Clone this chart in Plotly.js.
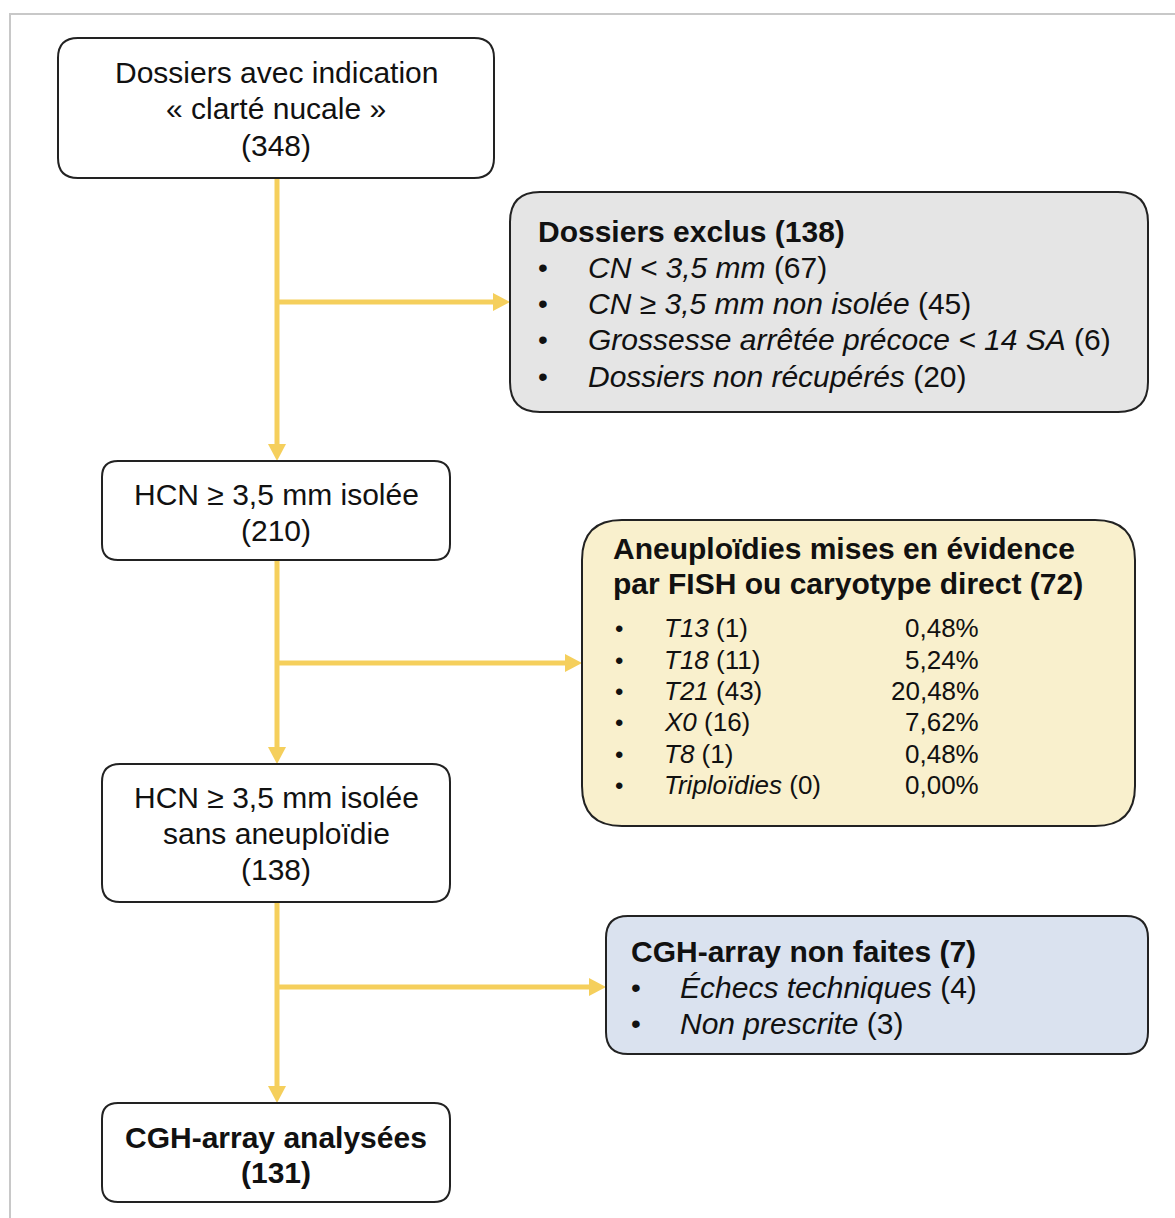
<!DOCTYPE html>
<html>
<head>
<meta charset="utf-8">
<script src="https://cdn.plot.ly/plotly-3.0.1.min.js"></script>
<style>html,body{margin:0;padding:0;background:#fff;}#chart{width:1175px;height:1218px;}</style>
</head>
<body>
<div id="chart"></div>
<script>
// ---- Data ----
const mainLabels = [["Dossiers avec indication", "« clarté nucale »"], ["HCN ≥ 3,5 mm isolée"], ["HCN ≥ 3,5 mm isolée", "sans aneuploïdie"], ["CGH-array analysées"]];
const mainCounts = [348, 210, 138, 131];

const exclusTitle = "Dossiers exclus";
const exclusTotal = 138;
const exclusLabels = ["CN &lt; 3,5 mm", "CN ≥ 3,5 mm non isolée", "Grossesse arrêtée précoce &lt; 14 SA", "Dossiers non récupérés"];
const exclusCounts = [67, 45, 6, 20];

const aneuTitle = ["Aneuploïdies mises en évidence", "par FISH ou caryotype direct"];
const aneuTotal = 72;
const aneuLabels = ["T13", "T18", "T21", "X0", "T8", "Triploïdies"];
const aneuCounts = [1, 11, 43, 16, 1, 0];
const aneuPct = ["0,48%", "5,24%", "20,48%", "7,62%", "0,48%", "0,00%"];

const cghTitle = "CGH-array non faites";
const cghTotal = 7;
const cghLabels = ["Échecs techniques", "Non prescrite"];
const cghCounts = [4, 3];

// ---- Layout helpers ----
const FONT = "Liberation Sans, Arial, Helvetica, sans-serif";
const INK = "#111111";
const LINE = "#f5cf5c";

function rr(x0, y0, x1, y1, r) {
  return `M${x0 + r},${y0} L${x1 - r},${y0} Q${x1},${y0} ${x1},${y0 + r} L${x1},${y1 - r} Q${x1},${y1} ${x1 - r},${y1} L${x0 + r},${y1} Q${x0},${y1} ${x0},${y1 - r} L${x0},${y0 + r} Q${x0},${y0} ${x0 + r},${y0} Z`;
}
const shapes = [];
const annotations = [];

function box(x0, y0, x1, y1, r, fill) {
  shapes.push({type: "path", path: rr(x0, y0, x1, y1, r), xref: "x", yref: "y",
    fillcolor: fill, line: {color: "#222222", width: 2}, layer: "above"});
}
function txt(x, y, text, size, anchor, extra) {
  annotations.push(Object.assign({x: x, y: y, xref: "x", yref: "y", text: text, showarrow: false,
    xanchor: anchor || "center", yanchor: "middle",
    font: {family: FONT, size: size, color: INK}}, extra || {}));
}
function vline(x, y0, y1) {
  shapes.push({type: "line", x0: x, x1: x, y0: y0, y1: y1 - 14, line: {color: LINE, width: 5}, layer: "below"});
  shapes.push({type: "path", path: `M${x - 9},${y1 - 17} L${x + 9},${y1 - 17} L${x},${y1} Z`,
    fillcolor: LINE, line: {color: LINE, width: 0}, layer: "below"});
}
function hline(y, x0, x1) {
  shapes.push({type: "line", x0: x0, x1: x1 - 14, y0: y, y1: y, line: {color: LINE, width: 5}, layer: "below"});
  shapes.push({type: "path", path: `M${x1 - 17},${y - 9} L${x1 - 17},${y + 9} L${x1},${y} Z`,
    fillcolor: LINE, line: {color: LINE, width: 0}, layer: "below"});
}

// outer frame
shapes.push({type: "rect", x0: 10, x1: 1190, y0: 14, y1: 1240, line: {color: "#c8c8c8", width: 2}, layer: "below"});

// connectors
const cx = 277;
vline(cx, 178, 461);
hline(302, cx, 510);
vline(cx, 560, 764);
hline(663, cx, 582);
vline(cx, 902, 1103);
hline(987, cx, 606);

// main boxes
box(58, 38, 494, 178, 20, "#ffffff");
box(102, 461, 450, 560, 16, "#ffffff");
box(102, 764, 450, 902, 18, "#ffffff");
box(102, 1103, 450, 1202, 16, "#ffffff");

const MS = 30;
const BUL = 28;
txt(276, 72, mainLabels[0][0], MS);
txt(276, 108, mainLabels[0][1], MS);
txt(276, 145, "(" + mainCounts[0] + ")", MS);

txt(276, 494, mainLabels[1][0], MS);
txt(276, 530, "(" + mainCounts[1] + ")", MS);

txt(276, 797, mainLabels[2][0], MS);
txt(276, 833, mainLabels[2][1], MS);
txt(276, 869, "(" + mainCounts[2] + ")", MS);

txt(276, 1137, "<b>" + mainLabels[3][0] + "</b>", MS);
txt(276, 1172, "<b>(" + mainCounts[3] + ")</b>", MS);

// excluded box
box(510, 192, 1148, 412, 30, "#e5e5e5");
txt(536, 231, "<b>" + exclusTitle + " (" + exclusTotal + ")</b>", MS, "left");
const exY = [267, 303, 339, 376];
exclusLabels.forEach((l, i) => {
  txt(536, exY[i], "•", BUL, "left");
  txt(586, exY[i], "<i>" + l + "</i> (" + exclusCounts[i] + ")", MS, "left");
});

// aneuploidies box
box(582, 520, 1135, 826, 40, "#f9f0cd");
txt(611, 548, "<b>" + aneuTitle[0] + "</b>", MS, "left");
txt(611, 583, "<b>" + aneuTitle[1] + " (" + aneuTotal + ")</b>", MS, "left");
const anY = [628, 660, 691, 722, 754, 785];
aneuLabels.forEach((l, i) => {
  txt(613, anY[i], "•", 24, "left");
  txt(662, anY[i], "<i>" + l + "</i> (" + aneuCounts[i] + ")", 26, "left");
  txt(981, anY[i], aneuPct[i], 26, "right");
});

// CGH not done box
box(606, 916, 1148, 1054, 22, "#dae2ef");
txt(629, 951, "<b>" + cghTitle + " (" + cghTotal + ")</b>", MS, "left");
const cgY = [987, 1023];
cghLabels.forEach((l, i) => {
  txt(629, cgY[i], "•", BUL, "left");
  txt(678, cgY[i], "<i>" + l + "</i> (" + cghCounts[i] + ")", MS, "left");
});

const layout = {
  width: 1175, height: 1218,
  margin: {l: 0, r: 0, t: 0, b: 0, pad: 0},
  paper_bgcolor: "#ffffff", plot_bgcolor: "#ffffff",
  showlegend: false,
  xaxis: {range: [0, 1175], visible: false, fixedrange: true},
  yaxis: {range: [1218, 0], visible: false, fixedrange: true},
  shapes: shapes,
  annotations: annotations
};
Plotly.newPlot("chart", [{x: [], y: [], type: "scatter", mode: "markers", hoverinfo: "skip"}], layout,
  {staticPlot: true, displayModeBar: false});
</script>
</body>
</html>
